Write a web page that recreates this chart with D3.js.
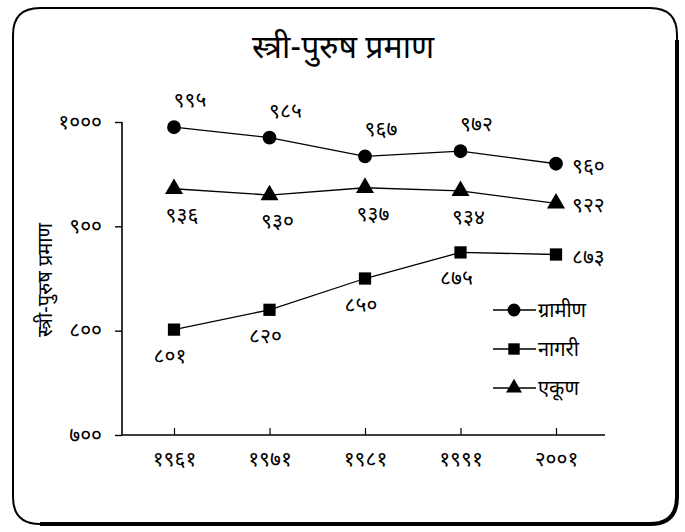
<!DOCTYPE html>
<html><head><meta charset="utf-8">
<script src="https://cdn.jsdelivr.net/npm/d3@7"></script>
<style>
body{margin:0;background:#fff;}
text{font-family:"Noto Sans Devanagari","Lohit Devanagari","Noto Sans","DejaVu Sans",sans-serif;fill:#000;}
</style></head>
<body><svg id="c" width="685" height="532"></svg>
<script>
const years = ["१९६१","१९७१","१९८१","१९९१","२००१"];
const rural = [995, 985, 967, 972, 960];
const urban = [801, 820, 850, 875, 873];
const total = [936, 930, 937, 934, 922];
const ruralLabels = ["९९५","९८५","९६७","९७२","९६०"];
const urbanLabels = ["८०१","८२०","८५०","८७५","८७३"];
const totalLabels = ["९३६","९३०","९३७","९३४","९२२"];
const yTicks = [700, 800, 900, 1000];
const yTickLabels = ["७००","८००","९००","१०००"];
const seriesNames = ["ग्रामीण","नागरी","एकूण"];
const title = "स्त्री-पुरुष प्रमाण";
const yTitle = "स्त्री-पुरुष प्रमाण";

const svg = d3.select("#c");
// frame
svg.append("path")
  .attr("d","M 40 8 L 650 8 Q 677 8 677 35 L 677 497 Q 677 524 650 524 L 40 524 Q 13 524 13 497 L 13 35 Q 13 8 40 8 Z")
  .attr("fill","none").attr("stroke","#000").attr("stroke-width",2);
svg.append("path")
  .attr("d","M 677 40 L 677 497 Q 677 524 650 524 L 40 524")
  .attr("fill","none").attr("stroke","#000").attr("stroke-width",4);

svg.append("text").attr("x",343).attr("y",58).attr("text-anchor","middle")
  .attr("font-size",32).text(title);

const x = d3.scalePoint().domain(years).range([174, 556]);
const y = d3.scaleLinear().domain([700,1000]).range([435,122]);

const g = svg.append("g");
// y axis
const yAxis = d3.axisLeft(y).tickValues(yTicks).tickSize(7).tickFormat((d,i)=>yTickLabels[i]);
const ya = g.append("g").attr("transform","translate(122,0)").call(yAxis);
ya.select(".domain").attr("d","M0,122V435").attr("stroke-width",1.6);
ya.selectAll(".tick line").attr("stroke-width",1.4);
ya.selectAll(".tick text").attr("font-size",21).attr("x",-20).attr("dy","0.3em");

// x axis
const xAxis = d3.axisTop(x).tickSize(7).tickFormat(d=>d);
const xa = g.append("g").attr("transform","translate(0,435)").call(xAxis);
xa.select(".domain").attr("d","M122,0H605").attr("stroke-width",1.6);
xa.selectAll(".tick line").attr("stroke-width",1.2);
xa.selectAll(".tick text").attr("font-size",21).attr("y",31).attr("dy",0);

svg.append("text").attr("transform","translate(52,280) rotate(-90)")
  .attr("text-anchor","middle").attr("font-size",20).text(yTitle);

const line = d3.line().x((d,i)=>x(years[i])).y(d=>y(d));
const series = [
  {vals: rural, labs: ruralLabels, sym: d3.symbolCircle, size: 150, pos: "above"},
  {vals: urban, labs: urbanLabels, sym: d3.symbolSquare, size: 150, pos: "below"},
  {vals: total, labs: totalLabels, sym: d3.symbolTriangle, size: 140, pos: "belowR"}
];
series.forEach(s=>{
  g.append("path").datum(s.vals).attr("d",line).attr("fill","none")
    .attr("stroke","#000").attr("stroke-width",1.3);
  g.selectAll(null).data(s.vals).enter().append("path")
    .attr("d",d3.symbol().type(s.sym).size(s.size))
    .attr("transform",(d,i)=>`translate(${x(years[i])},${y(d)})`).attr("fill","#000");
  g.selectAll(null).data(s.vals).enter().append("text")
    .attr("font-size",21)
    .attr("x",(d,i)=> i===s.vals.length-1 ? x(years[i])+16 : x(years[i]) + (s.pos==="above"?16:(s.pos==="belowR"?8:-4)))
    .attr("y",(d,i)=> i===s.vals.length-1 ? y(d)+9 : y(d) + (s.pos==="above"?-20:33))
    .attr("text-anchor",(d,i)=> i===s.vals.length-1 ? "start" : "middle")
    .text((d,i)=>s.labs[i]);
});

// legend
const syms = [d3.symbolCircle, d3.symbolSquare, d3.symbolTriangle];
seriesNames.forEach((n,i)=>{
  const ly = 310 + i*39;
  svg.append("line").attr("x1",493).attr("x2",536).attr("y1",ly).attr("y2",ly).attr("stroke","#000").attr("stroke-width",1.3);
  svg.append("path").attr("d",d3.symbol().type(syms[i]).size(i===2?110:130)).attr("transform",`translate(514,${ly})`).attr("fill","#000");
  svg.append("text").attr("x",538).attr("y",ly+7).attr("font-size",20).text(n);
});
</script></body></html>
